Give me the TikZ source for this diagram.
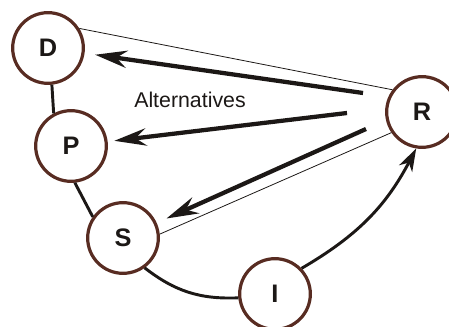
\documentclass[tikz,border=0pt]{standalone}
\usepackage{fontspec}
\setmainfont{Liberation Sans}
\usetikzlibrary{arrows.meta}
\definecolor{ringbrown}{RGB}{88,44,34}
\definecolor{ink}{RGB}{28,24,22}

\begin{document}
\begin{tikzpicture}[x=0.75pt,y=-0.75pt]
	\tikzstyle{every node}+=[inner sep=0pt]
	\tikzstyle{state}=[circle,draw=ringbrown,line width=2.4pt,minimum size=53pt,font=\fontsize{19}{19}\selectfont\bfseries,text=ink]
	\tikzstyle{alt}=[draw=ink,line width=3.2pt,-{Stealth[length=24pt,width=13pt,inset=8pt]}]
	\tikzstyle{link}=[draw=ink,line width=2.2pt]
	\tikzstyle{thin}=[draw=ink,line width=0.6pt]
	\useasboundingbox (0,0) rectangle (449,327);
	\node [state] (D) at (48,48) {D};
	\node [state] (P) at (71,146) {P};
	\node [state] (S) at (123,238) {S};
	\node [state] (I) at (275,294) {I};
	\node [state] (R) at (422,112) {R};
	\node [font=\fontsize{16}{16}\selectfont,text=ink] (alts) at (190,100) {Alternatives};
	% free ends of the alternative arrows
	\coordinate (aD) at (363,93);
	\coordinate (aP) at (347,113);
	\coordinate (aS) at (366,129);
	\draw [alt,shorten >=8pt] (aD) -- (D);
	\draw [alt,shorten >=5pt] (aP) -- (P);
	\draw [alt,shorten >=8pt] (aS) -- (S);
	\draw [thin] (D.32) -- (R.143);
	\draw [thin] (S.6) -- (R.214);
	\draw [link] (D.276) -- (P.118);
	\draw [link] (P.276) -- (S.145);
	\draw [link] (S.-54) to [bend right=20] (I.186);
	\draw [link,-{Stealth[length=17pt,width=11pt,inset=5pt]}] (I.44) to [bend right=16] (R.261);
\end{tikzpicture}
\end{document}
